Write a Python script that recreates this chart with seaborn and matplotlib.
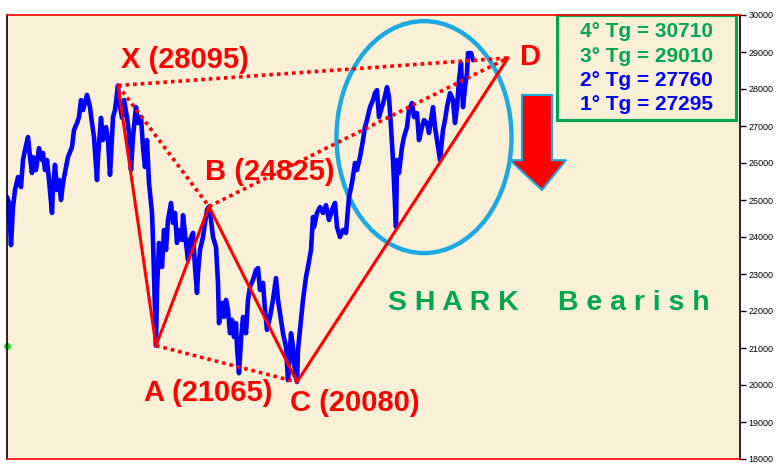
import matplotlib
matplotlib.use('Agg')
import matplotlib.pyplot as plt
import seaborn as sns
import pandas as pd
from matplotlib.patches import Ellipse, Polygon, Rectangle

# price path (session index, index level)
sessions = [7, 9, 11, 13, 15, 18, 21, 23, 25, 28, 30, 32, 33, 36, 39, 42, 43, 45, 47, 49,
            52, 53, 55, 57, 59, 61, 63, 66, 68, 72, 74, 77, 79, 81, 83, 87, 90, 92, 94, 97,
            98, 101, 103, 106, 108, 110, 112, 113, 115, 118, 119, 122, 124, 127, 129, 131, 133,
            136, 138, 141, 143, 145, 147, 149, 152, 153, 156,
            157, 159, 162, 164, 166, 168, 171, 173, 175, 177, 179, 182, 183, 186, 188, 190, 193,
            195, 197, 198, 200, 203, 205, 207, 209, 211, 213, 216, 218, 219, 222, 224, 226, 228,
            230, 232, 234, 236, 237, 239, 241, 243, 246, 248, 250, 253, 256, 258, 260, 263, 265,
            267, 270, 273, 276, 278, 281, 283, 286, 288, 291, 293, 294, 297, 298, 301, 303, 306,
            308, 311, 313,
            314, 317, 320, 323, 326, 329, 332, 335, 337, 340, 343, 346, 349, 352, 355, 357, 360,
            363, 365, 367, 370, 373, 375, 377, 379, 382, 384, 387, 389, 391, 393, 396, 397, 399,
            402, 404, 407, 409, 412, 414, 417, 419, 422, 424, 427, 429, 432, 433, 435, 437, 440,
            443, 445, 447, 450, 453, 455, 457, 459, 461, 463, 465, 467, 468, 471, 473]
prices = [25080, 24920, 23780, 24810, 25270, 25620, 25350, 26080, 26350, 26700, 26160, 25730,
          26160, 25810, 26400, 26080, 26270, 25810, 26080, 25540, 24650, 25350, 25950, 25270,
          25540, 25000, 25460, 25890, 26160, 26430, 26890, 27080, 27240, 27700, 27430, 27840,
          27510, 27080, 26700, 25540, 26160, 27220, 26620, 26970, 26620, 25680, 26680, 27240,
          27430, 28095, 27700, 27220, 27700, 27240, 26810, 25810, 26700, 27510, 27080, 27240,
          26430, 25890, 26620, 25460, 24650, 23920, 21065,
          22570, 23840, 23190, 24190, 23650, 24460, 24920, 24380, 24650, 23840, 24190, 23920,
          24590, 23840, 23380, 23920, 24110, 23190, 22490, 23030, 23650, 24000, 24380, 24730,
          24825, 24460, 24000, 23730, 22760, 21670, 22220, 21840, 22300, 22030, 21400, 21760,
          21300, 21670, 21030, 20320, 21220, 21840, 21400, 22300, 22650, 22840, 23110, 23160,
          22570, 22760, 22030, 21490, 21840, 22300, 22890, 22300, 21760, 21400, 21030, 20130,
          21400, 21030, 20590, 20080, 20950, 21760, 22300, 22920, 23190, 23650, 24540,
          24270, 24650, 24810, 24650, 24860, 24460, 24730, 24920, 24270, 24000, 24190, 24110,
          25080, 25460, 26000, 25810, 26160, 26620, 26970, 27160, 27510, 27700, 27890, 27970,
          27240, 27510, 27700, 28050, 27780, 26970, 26080, 24270, 26080, 25730, 26430, 26700,
          26970, 27430, 27620, 27240, 27350, 26620, 26970, 27160, 27080, 26810, 27350, 27510,
          26970, 26620, 26080, 26890, 27160, 27510, 27890, 27700, 27080, 27510, 28240, 28700,
          27510, 28050, 28430, 28970, 28970, 28780]

# harmonic pattern points
point_names = ['X', 'A', 'B', 'C', 'D']
point_x = [118, 156, 209, 297, 508]
point_y = [28095, 21065, 24825, 20080, 28840]

targets = ['4° Tg = 30710', '3° Tg = 29010', '2° Tg = 27760', '1° Tg = 27295']
target_colors = ['#00A651', '#00A651', '#0000FF', '#0000FF']

yticks = list(range(18000, 30001, 1000))

RED = '#FF0000'
GREEN = '#00A651'
CYAN = '#1CA8E0'

sns.set_style('white')
plt.rcParams['font.family'] = ['Liberation Sans', 'DejaVu Sans']

fig = plt.figure(figsize=(7.81, 4.74), dpi=100)
ax = fig.add_axes([7 / 781, 15 / 474, 733 / 781, 444 / 474])
ax.set_facecolor('#FAF0D8')

data = pd.DataFrame({'session': sessions, 'price': prices})
sns.lineplot(x='session', y='price', data=data, ax=ax, color='#0000FF', linewidth=3.3,
             estimator=None, sort=False)

px = dict(zip(point_names, point_x))
py = dict(zip(point_names, point_y))

# solid legs
for a, b in [('X', 'A'), ('A', 'B'), ('B', 'C'), ('C', 'D')]:
    ax.plot([px[a], px[b]], [py[a], py[b]], color=RED, linewidth=2.2, solid_capstyle='round')
# dotted ratio lines
for a, b in [('X', 'B'), ('A', 'C'), ('X', 'D'), ('B', 'D')]:
    ax.plot([px[a], px[b]], [py[a], py[b]], color=RED, linewidth=2.6,
            linestyle=(0, (1, 1.1)))

lab = dict(fontsize=21, fontweight='bold', color=RED, ha='center', va='center')
ax.text(185, 28790, 'X (28095)', **lab)
ax.text(270, 25760, 'B (24825)', **lab)
ax.text(208, 19790, 'A (21065)', **lab)
ax.text(355, 19510, 'C (20080)', **lab)
ax.text(530, 28870, 'D', **lab)

ax.text(549, 22215, 'S H A R K     B e a r i s h', fontsize=20.5, fontweight='bold',
        color=GREEN, ha='center', va='center')

ax.add_patch(Ellipse((424, 26700), 175, 6270, fill=False, edgecolor=CYAN, linewidth=3.2))

# down arrow
arrow = [(0.7026, 0.820), (0.7435, 0.820), (0.7435, 0.673), (0.7626, 0.673),
         (0.7298, 0.606), (0.6860, 0.673), (0.7026, 0.673)]
ax.add_patch(Polygon(arrow, closed=True, transform=ax.transAxes, facecolor=RED,
                     edgecolor=CYAN, linewidth=1.5))

# target box
ax.add_patch(Rectangle((0.750, 0.7635), 0.2445, 0.2365, transform=ax.transAxes,
                       facecolor='none', edgecolor=GREEN, linewidth=2.2, clip_on=False))
for i, (t, c) in enumerate(zip(targets, target_colors)):
    ax.text(0.872, 0.962 - i * 0.0545, t, transform=ax.transAxes, fontsize=15,
            fontweight='bold', color=c, ha='center', va='center')

ax.plot([7], [21065], marker='o', color='#22DD22', markersize=4, clip_on=False)

ax.set_xlim(7, 740)
ax.set_ylim(18000, 30000)
ax.set_xticks([])
ax.yaxis.tick_right()
ax.set_yticks(yticks)
ax.set_yticklabels([str(v) for v in yticks])
ax.tick_params(axis='y', right=True, direction='out', length=4, width=1, labelsize=6.5,
               pad=2, colors='black')
ax.set_xlabel('')
ax.set_ylabel('')

for side in ['left', 'right']:
    ax.spines[side].set_color('black')
    ax.spines[side].set_linewidth(1.2)
for side in ['top', 'bottom']:
    ax.spines[side].set_color(RED)
    ax.spines[side].set_linewidth(1.2)

fig.savefig('out.png', dpi=100, facecolor='white')
